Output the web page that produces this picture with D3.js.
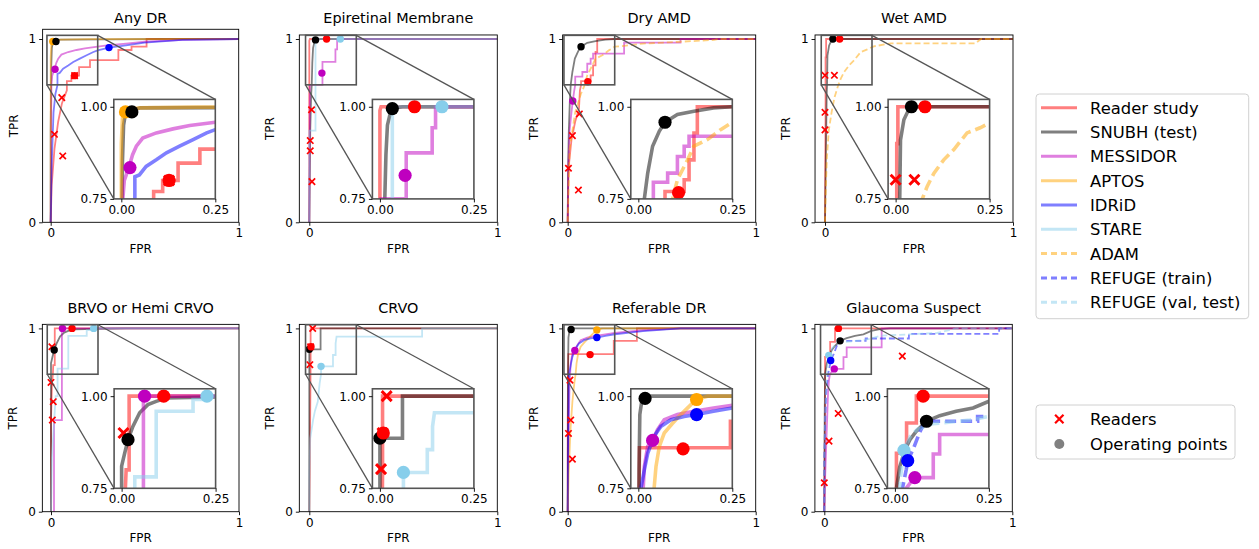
<!DOCTYPE html>
<html><head><meta charset="utf-8">
<script src="https://cdn.jsdelivr.net/npm/d3@7"></script>
<style>body{margin:0;background:#fff;} text{font-family:"DejaVu Sans",sans-serif;fill:#000;}</style>
</head><body><svg id="chart" width="1259" height="549"></svg>
<script>
// ---------- series / legend ----------
const seriesNames = ["Reader study","SNUBH (test)","MESSIDOR","APTOS","IDRiD","STARE","ADAM","REFUGE (train)","REFUGE (val, test)"];
const seriesColors = ["#ff0000","#000000","#bf00bf","#ffa500","#0000ff","#87ceeb","#ffa500","#0000ff","#87ceeb"];
const seriesDashed = [false,false,false,false,false,false,true,true,true];
const opColors = ["#ff0000","#000000","#bf00bf","#ffa500","#0000ff","#87ceeb","#ffa500","#0000ff","#87ceeb"];
const titles = ["Any DR","Epiretinal Membrane","Dry AMD","Wet AMD","BRVO or Hemi CRVO","CRVO","Referable DR","Glaucoma Suspect"];
const mainTicks = [0,1];
const insetXTicks = [0,0.25];
const insetYTicks = [0.75,1.0];

// ---------- Any DR ----------
const anyDR_reader = [[0,0],[0.005,0.2],[0.02,0.4],[0.04,0.55],[0.06,0.65],[0.086,0.72],[0.086,0.77],[0.11,0.77],[0.11,0.80],[0.151,0.80],[0.151,0.847],[0.209,0.847],[0.209,0.885],[0.36,0.885],[0.36,0.94],[0.43,0.94],[0.43,0.958],[0.51,0.958],[0.51,1],[1,1]];
const anyDR_snubh = [[0,0],[0,0.5],[0.003,0.85],[0.006,0.95],[0.01,0.975],[0.02,0.985],[0.03,0.99],[0.05,0.997],[0.3,0.998],[0.6,1],[1,1]];
const anyDR_messidor = [[0,0],[0.002,0.5],[0.004,0.75],[0.008,0.8],[0.02,0.835],[0.03,0.87],[0.04,0.893],[0.057,0.915],[0.093,0.929],[0.1375,0.94],[0.182,0.949],[0.25,0.958],[0.3,0.965],[0.4,0.975],[0.5,0.985],[0.7,0.995],[1,1]];
const anyDR_aptos = [[0,0],[0,0.9],[0.003,0.97],[0.008,0.985],[0.02,0.993],[0.05,0.997],[0.2,0.999],[1,1]];
const anyDR_idrid = [[0,0],[0.005,0.3],[0.01,0.45],[0.015,0.6],[0.025,0.7],[0.036,0.75],[0.036,0.81],[0.048,0.815],[0.066,0.838],[0.093,0.856],[0.12,0.875],[0.155,0.893],[0.191,0.911],[0.227,0.929],[0.25,0.938],[0.31,0.953],[0.4,0.965],[0.5,0.98],[0.7,0.995],[1,1]];
const anyDR_ops = [["Reader study",0.127,0.80],["APTOS",0.011,0.986],["MESSIDOR",0.023,0.835],["IDRiD",0.31,0.953],["SNUBH (test)",0.028,0.986]];
const anyDR_readers = [[0.059,0.68],[0.02,0.48],[0.064,0.362],[0.127,0.80]];

// ---------- Epiretinal Membrane ----------
const erm_reader = [[0,0],[0,0.99],[0.003,1],[1,1]];
const erm_snubh = [[0,0],[0.005,0.5],[0.01,0.7],[0.013,0.75],[0.016,0.87],[0.02,0.95],[0.028,0.985],[0.04,0.997],[0.06,1],[1,1]];
const erm_messidor = [[0,0],[0.003,0.75],[0.07,0.75],[0.07,0.875],[0.139,0.875],[0.139,0.943],[0.148,0.943],[0.148,1],[1,1]];
const erm_stare = [[0,0],[0,0.5],[0.033,0.5],[0.033,1],[1,1]];
const erm_ops = [["Reader study",0.092,1.0],["MESSIDOR",0.067,0.814],["STARE",0.165,1.0],["SNUBH (test)",0.033,0.995]];
const erm_readers = [[0.012,0.614],[0.005,0.446],[0.005,0.39],[0.014,0.222]];

// ---------- Dry AMD ----------
const dry_reader = [[0,0],[0.005,0.3],[0.02,0.45],[0.04,0.55],[0.06,0.62],[0.065,0.72],[0.071,0.75],[0.071,0.77],[0.122,0.77],[0.122,0.802],[0.135,0.802],[0.135,0.856],[0.148,0.856],[0.148,0.929],[0.157,0.929],[0.157,1],[1,1]];
const dry_snubh = [[0,0],[0.002,0.3],[0.006,0.5],[0.011,0.65],[0.016,0.75],[0.025,0.82],[0.038,0.893],[0.056,0.934],[0.071,0.958],[0.104,0.979],[0.148,0.988],[0.2,0.997],[0.25,1],[1,1]];
const dry_messidor = [[0,0],[0.003,0.3],[0.01,0.5],[0.02,0.6],[0.027,0.662],[0.035,0.72],[0.04,0.75],[0.04,0.795],[0.078,0.795],[0.078,0.82],[0.104,0.82],[0.104,0.865],[0.122,0.865],[0.122,0.893],[0.135,0.893],[0.135,0.92],[0.3,0.92],[0.3,0.98],[0.6,0.98],[0.6,1],[1,1]];
const dry_adam = [[0,0],[0.01,0.4],[0.04,0.6],[0.07,0.7],[0.091,0.75],[0.104,0.802],[0.131,0.856],[0.148,0.893],[0.184,0.911],[0.219,0.938],[0.25,0.958],[0.28,0.96],[0.4,0.975],[0.6,0.985],[0.78,0.995],[0.8,1],[1,1]];
const dry_ops = [["Reader study",0.107,0.767],["MESSIDOR",0.027,0.662],["SNUBH (test)",0.071,0.958]];
const dry_readers = [[0.062,0.591],[0.025,0.473],[0.004,0.295],[0.057,0.176]];

// ---------- Wet AMD ----------
const wet_reader = [[0,0],[0.003,0.6],[0.003,0.9],[0.006,0.9],[0.006,1],[1,1]];
const wet_snubh = [[0,0],[0.005,0.4],[0.009,0.7],[0.011,0.75],[0.013,0.91],[0.022,0.965],[0.035,0.993],[0.045,1],[1,1]];
const wet_adam = [[0,0],[0.005,0.2],[0.01,0.35],[0.02,0.5],[0.035,0.6],[0.05,0.68],[0.071,0.75],[0.084,0.784],[0.102,0.82],[0.128,0.856],[0.155,0.884],[0.19,0.929],[0.225,0.943],[0.25,0.956],[0.26,0.96],[0.35,0.976],[0.8,0.976],[0.83,1],[1,1]];
const wet_ops = [["SNUBH (test)",0.042,1.0],["Reader study",0.078,1.0]];
const wet_readers = [[0,0.802],[0.05,0.802],[0,0.6],[0,0.504]];

// ---------- BRVO or Hemi CRVO ----------
const brvo_reader = [[0,0],[0,0.5],[0.005,0.7],[0.01,0.75],[0.012,0.8],[0.02,0.8],[0.02,1],[1,1]];
const brvo_snubh = [[0,0],[0,0.5],[0,0.81],[0.008,0.845],[0.017,0.882],[0.03,0.918],[0.048,0.955],[0.07,0.977],[0.092,0.986],[0.119,0.995],[0.25,0.998],[0.4,1],[1,1]];
const brvo_messidor = [[0.016,0],[0.016,0.5],[0.058,0.5],[0.058,1],[1,1]];
const brvo_stare = [[0,0],[0.005,0.3],[0.02,0.55],[0.025,0.63],[0.035,0.63],[0.035,0.781],[0.092,0.781],[0.092,0.959],[0.19,0.959],[0.19,0.991],[0.227,0.991],[0.227,1],[1,1]];
const brvo_ops = [["Reader study",0.112,1.0],["MESSIDOR",0.061,1.0],["STARE",0.227,1.0],["SNUBH (test)",0.017,0.882]];
const brvo_readers = [[0.005,0.9],[0,0.705],[0.012,0.6],[0.007,0.5]];

// ---------- CRVO ----------
const crvo_reader = [[0,0],[0.003,0.3],[0.007,0.8],[0.007,1],[1,1]];
const crvo_snubh = [[0,0],[0,0.886],[0.06,0.886],[0.06,1],[1,1]];
const crvo_stare = [[0,0],[0,0.2],[0.005,0.4],[0.02,0.5],[0.03,0.55],[0.045,0.6],[0.055,0.7],[0.0625,0.75],[0.0625,0.793],[0.126,0.793],[0.126,0.855],[0.14,0.855],[0.14,0.918],[0.145,0.955],[0.6,0.955],[0.6,1],[1,1]];
const crvo_ops = [["SNUBH (test)",0.0,0.886],["Reader study",0.009,0.9],["STARE",0.0625,0.793]];
const crvo_readers = [[0.018,1.0],[0.003,0.802],[0.007,0.9]];

// ---------- Referable DR ----------
const rdr_reader = [[0,0],[0,0.5],[0.003,0.86],[0.245,0.86],[0.245,0.932],[0.368,0.932],[0.368,1],[1,1]];
const rdr_snubh = [[0,0],[0.002,0.8],[0.004,0.95],[0.009,0.985],[0.02,0.995],[0.03,1],[1,1]];
const rdr_messidor = [[0,0],[0.004,0.4],[0.01,0.7],[0.013,0.75],[0.016,0.809],[0.025,0.864],[0.038,0.88],[0.051,0.909],[0.069,0.936],[0.104,0.95],[0.148,0.959],[0.2,0.968],[0.25,0.975],[0.4,0.99],[0.6,1],[1,1]];
const rdr_aptos = [[0,0],[0.005,0.2],[0.015,0.45],[0.025,0.6],[0.035,0.7],[0.042,0.75],[0.047,0.809],[0.056,0.864],[0.069,0.9],[0.09,0.925],[0.113,0.95],[0.14,0.977],[0.155,0.991],[0.184,1],[1,1]];
const rdr_idrid = [[0,0],[0.003,0.4],[0.005,0.7],[0.007,0.75],[0.016,0.8],[0.025,0.845],[0.042,0.891],[0.06,0.918],[0.087,0.936],[0.122,0.945],[0.155,0.95],[0.2,0.959],[0.25,0.968],[0.4,0.985],[0.6,1],[1,1]];
const rdr_ops = [["Reader study",0.119,0.857],["MESSIDOR",0.038,0.88],["APTOS",0.155,0.991],["IDRiD",0.155,0.95],["SNUBH (test)",0.018,0.994]];
const rdr_readers = [[0.012,0.718],[0.016,0.5],[0.004,0.427],[0.025,0.287]];

// ---------- Glaucoma Suspect ----------
const gl_reader = [[0,0],[0.002,0.3],[0.004,0.6],[0.004,0.845],[0.031,0.845],[0.031,0.927],[0.057,0.927],[0.057,1],[1,1]];
const gl_snubh = [[0,0],[0.002,0.5],[0.004,0.75],[0.013,0.809],[0.027,0.855],[0.04,0.882],[0.057,0.905],[0.084,0.932],[0.119,0.947],[0.163,0.959],[0.208,0.968],[0.25,0.986],[0.296,0.996],[0.35,1],[1,1]];
const gl_messidor = [[0,0],[0.005,0.2],[0.015,0.5],[0.02,0.65],[0.025,0.72],[0.03,0.75],[0.045,0.77],[0.053,0.779],[0.102,0.779],[0.102,0.843],[0.119,0.843],[0.119,0.896],[0.305,0.896],[0.305,1],[1,1]];
const gl_refugeTrain = [[0,0],[0,0.3],[0.005,0.5],[0.01,0.65],[0.02,0.75],[0.03,0.8],[0.034,0.825],[0.05,0.86],[0.065,0.9],[0.08,0.932],[0.22,0.932],[0.22,0.945],[0.45,0.945],[0.45,0.97],[0.93,0.97],[0.93,1],[1,1]];
const gl_refugeVal = [[0,0],[0.003,0.5],[0.01,0.7],[0.015,0.78],[0.024,0.853],[0.04,0.89],[0.06,0.91],[0.1,0.925],[0.2,0.935],[0.25,0.945],[0.3,0.96],[0.6,0.975],[0.7,1],[1,1]];
const gl_ops = [["Reader study",0.075,1.0],["REFUGE (val, test)",0.024,0.853],["REFUGE (train)",0.034,0.825],["MESSIDOR",0.053,0.779],["SNUBH (test)",0.084,0.932]];
const gl_readers = [[0.415,0.849],[0.074,0.536],[0.025,0.385],[0,0.158]];

// panel content (references to the arrays above)
const panelCurves = [
  [["Reader study",anyDR_reader],["SNUBH (test)",anyDR_snubh],["MESSIDOR",anyDR_messidor],["APTOS",anyDR_aptos],["IDRiD",anyDR_idrid]],
  [["Reader study",erm_reader],["SNUBH (test)",erm_snubh],["MESSIDOR",erm_messidor],["STARE",erm_stare]],
  [["Reader study",dry_reader],["SNUBH (test)",dry_snubh],["MESSIDOR",dry_messidor],["ADAM",dry_adam]],
  [["Reader study",wet_reader],["SNUBH (test)",wet_snubh],["ADAM",wet_adam]],
  [["Reader study",brvo_reader],["SNUBH (test)",brvo_snubh],["MESSIDOR",brvo_messidor],["STARE",brvo_stare]],
  [["Reader study",crvo_reader],["SNUBH (test)",crvo_snubh],["STARE",crvo_stare]],
  [["Reader study",rdr_reader],["SNUBH (test)",rdr_snubh],["MESSIDOR",rdr_messidor],["APTOS",rdr_aptos],["IDRiD",rdr_idrid]],
  [["Reader study",gl_reader],["SNUBH (test)",gl_snubh],["MESSIDOR",gl_messidor],["REFUGE (train)",gl_refugeTrain],["REFUGE (val, test)",gl_refugeVal]]
];
const panelOps = [anyDR_ops,erm_ops,dry_ops,wet_ops,brvo_ops,crvo_ops,rdr_ops,gl_ops];
const panelReaders = [anyDR_readers,erm_readers,dry_readers,wet_readers,brvo_readers,crvo_readers,rdr_readers,gl_readers];

// ---------- layout ----------
const UX = 188, UY = 183.3;
const INS_W = 101.5, INS_H = 99.5, INS_PAD = 23.4;
const layout = [
  {x0:50.7, y0:222.3, xLo:-0.043, yHi:1.053},
  {x0:309.3,y0:222.3, xLo:-0.053, yHi:1.022},
  {x0:567.7,y0:222.3, xLo:-0.027, yHi:1.022},
  {x0:825.0,y0:222.3, xLo:-0.053, yHi:1.022},
  {x0:51.0, y0:511.7, xLo:-0.046, yHi:1.022},
  {x0:309.3,y0:511.7, xLo:-0.053, yHi:1.022},
  {x0:567.7,y0:511.7, xLo:-0.027, yHi:1.022},
  {x0:824.3,y0:511.7, xLo:-0.05,  yHi:1.022}
];
const TICK_FS = 12, LABEL_FS = 12, TITLE_FS = 14.4, LEGEND_FS = 16.4;
const svg = d3.select("#chart");
const defs = svg.append("defs");
const colorOf = n => seriesColors[seriesNames.indexOf(n)];
const dashedOf = n => seriesDashed[seriesNames.indexOf(n)];
const opColorOf = n => opColors[seriesNames.indexOf(n)];

function crossPath(cx, cy, s) {
  return `M${cx-s},${cy-s}L${cx+s},${cy+s}M${cx-s},${cy+s}L${cx+s},${cy-s}`;
}

function drawContent(g, x, y, idx, big) {
  const line = d3.line().x(d => x(d[0])).y(d => y(d[1]));
  const lw = big ? 3.6 : 1.8;
  panelCurves[idx].forEach(([name, pts]) => {
    g.append("path").attr("d", line(pts)).attr("fill","none")
      .attr("stroke", colorOf(name)).attr("stroke-opacity",0.5)
      .attr("stroke-width", lw).attr("stroke-linejoin","miter")
      .attr("stroke-dasharray", dashedOf(name) ? (big ? "11,5" : "6,3") : null);
  });
  panelReaders[idx].forEach(p => {
    g.append("path").attr("d", crossPath(x(p[0]), y(p[1]), big ? 5 : 3.2))
      .attr("stroke","#ff0000").attr("stroke-width", big ? 3 : 1.7).attr("fill","none");
  });
  panelOps[idx].forEach(([name, fx, fy]) => {
    g.append("circle").attr("cx", x(fx)).attr("cy", y(fy)).attr("r", big ? 6.6 : 3.7)
      .attr("fill", opColorOf(name));
  });
}

function styleAxis(a) {
  a.select(".domain").remove();
  a.selectAll("text").attr("font-size",TICK_FS).attr("font-family","DejaVu Sans");
  a.selectAll("line").attr("stroke-width",0.9);
}

layout.forEach((L, idx) => {
  const left = L.x0 + L.xLo*UX, right = L.x0 + UX, bottom = L.y0, top = L.y0 - L.yHi*UY;
  const x = d3.scaleLinear().domain([L.xLo, 1]).range([left, right]);
  const y = d3.scaleLinear().domain([0, L.yHi]).range([bottom, top]);
  const g = svg.append("g");
  defs.append("clipPath").attr("id","cm"+idx).append("rect")
    .attr("x",left).attr("y",top).attr("width",right-left).attr("height",bottom-top);
  const content = g.append("g").attr("clip-path",`url(#cm${idx})`);
  drawContent(content, x, y, idx, false);
  g.append("rect").attr("x",left).attr("y",top).attr("width",right-left).attr("height",bottom-top)
    .attr("fill","none").attr("stroke","#000").attr("stroke-width",0.9);
  styleAxis(g.append("g").attr("transform",`translate(0,${bottom})`)
    .call(d3.axisBottom(x).tickValues(mainTicks).tickFormat(d3.format("d")).tickSize(3.5).tickPadding(3)));
  styleAxis(g.append("g").attr("transform",`translate(${left},0)`)
    .call(d3.axisLeft(y).tickValues(mainTicks).tickFormat(d3.format("d")).tickSize(3.5).tickPadding(3)));
  g.append("text").attr("x",(left+right)/2).attr("y",bottom+30.5).attr("text-anchor","middle")
    .attr("font-size",LABEL_FS).text("FPR");
  g.append("text").attr("transform",`translate(${left-25},${(top+bottom)/2}) rotate(-90)`)
    .attr("text-anchor","middle").attr("font-size",LABEL_FS).text("TPR");
  g.append("text").attr("x",(left+right)/2).attr("y", idx < 4 ? 23.3 : 313.3).attr("text-anchor","middle")
    .attr("font-size",TITLE_FS).text(titles[idx]);

  // inset
  const iR = right - INS_PAD, iL = iR - INS_W, iB = bottom - INS_PAD, iT = iB - INS_H;
  const xi = d3.scaleLinear().domain([-0.02, 0.25]).range([iL, iR]);
  const yi = d3.scaleLinear().domain([0.75, 1.02]).range([iB, iT]);
  const rx0 = x(-0.02), rx1 = x(0.25), ry0 = y(1.02), ry1 = y(0.75);
  g.append("rect").attr("x",rx0).attr("y",ry0).attr("width",rx1-rx0).attr("height",ry1-ry0)
    .attr("fill","none").attr("stroke","#555").attr("stroke-width",1.6);
  g.append("line").attr("x1",rx1).attr("y1",ry0).attr("x2",iR).attr("y2",iT).attr("stroke","#555").attr("stroke-width",1.3);
  g.append("line").attr("x1",rx0).attr("y1",ry1).attr("x2",iL).attr("y2",iB).attr("stroke","#555").attr("stroke-width",1.3);

  const ig = g.append("g");
  ig.append("rect").attr("x",iL).attr("y",iT).attr("width",INS_W).attr("height",INS_H).attr("fill","#fff");
  defs.append("clipPath").attr("id","ci"+idx).append("rect")
    .attr("x",iL).attr("y",iT).attr("width",INS_W).attr("height",INS_H);
  const ic = ig.append("g").attr("clip-path",`url(#ci${idx})`);
  drawContent(ic, xi, yi, idx, true);
  ig.append("rect").attr("x",iL).attr("y",iT).attr("width",INS_W).attr("height",INS_H)
    .attr("fill","none").attr("stroke","#555").attr("stroke-width",1.6);
  styleAxis(ig.append("g").attr("transform",`translate(0,${iB})`)
    .call(d3.axisBottom(xi).tickValues(insetXTicks).tickFormat(d3.format(".2f")).tickSize(3.5).tickPadding(3)));
  styleAxis(ig.append("g").attr("transform",`translate(${iL},0)`)
    .call(d3.axisLeft(yi).tickValues(insetYTicks).tickFormat(d3.format(".2f")).tickSize(3.5).tickPadding(3)));
});

// ---------- legends ----------
const lg = svg.append("g");
lg.append("rect").attr("x",1036).attr("y",94).attr("width",212.7).attr("height",224.7).attr("rx",3.5)
  .attr("fill","#fff").attr("stroke","#d0d0d0").attr("stroke-width",1);
seriesNames.forEach((n, i) => {
  const yy = 107.7 + i*24.32;
  lg.append("line").attr("x1",1041).attr("x2",1077).attr("y1",yy).attr("y2",yy)
    .attr("stroke", seriesColors[i]).attr("stroke-opacity",0.5).attr("stroke-width",3)
    .attr("stroke-dasharray", seriesDashed[i] ? "6,4" : null);
  lg.append("text").attr("x",1090).attr("y",yy).attr("dy","0.36em").attr("font-size",LEGEND_FS).text(n);
});
const lg2 = svg.append("g");
lg2.append("rect").attr("x",1036).attr("y",405).attr("width",199).attr("height",54).attr("rx",3.5)
  .attr("fill","#fff").attr("stroke","#d0d0d0").attr("stroke-width",1);
lg2.append("path").attr("d",crossPath(1059.3,419,4.2)).attr("stroke","#ff0000").attr("stroke-width",2.2);
lg2.append("text").attr("x",1090).attr("y",419).attr("dy","0.36em").attr("font-size",LEGEND_FS).text("Readers");
lg2.append("circle").attr("cx",1059.3).attr("cy",444).attr("r",5).attr("fill","#808080");
lg2.append("text").attr("x",1090).attr("y",444).attr("dy","0.36em").attr("font-size",LEGEND_FS).text("Operating points");
</script></body></html>
